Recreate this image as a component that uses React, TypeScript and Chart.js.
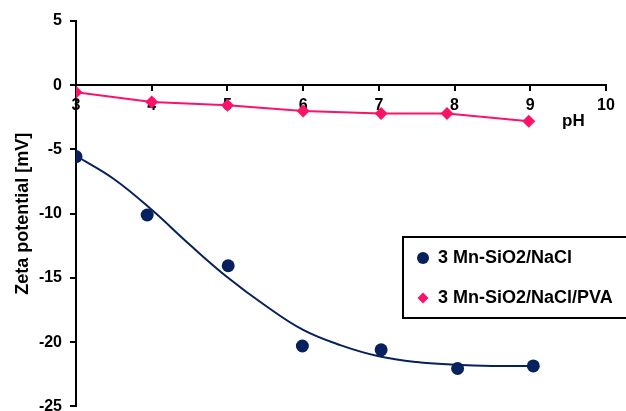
import { useEffect, useRef } from "react";
import { Chart, registerables } from "chart.js";

Chart.register(...registerables);

// Zeta potential of 3 Mn-SiO2 in NaCl
const phNaCl = [3, 3.94, 5.01, 5.99, 7.03, 8.04, 9.04];
const zetaNaCl = [-5.55, -10.1, -14.05, -20.3, -20.6, -22.05, -21.85];

// Smoothed trend through the NaCl series
const phFit = [3, 3.5, 4, 4.5, 5, 5.5, 6, 6.5, 7, 7.5, 8, 8.5, 9.04];
const zetaFit = [-5.5, -7.3, -9.7, -12.4, -14.95, -17.15, -19.05, -20.25, -21.1, -21.55, -21.75, -21.85, -21.85];

// Zeta potential of 3 Mn-SiO2 in NaCl with PVA
const phPVA = [3, 4, 5, 6, 7.03, 7.9, 8.98];
const zetaPVA = [-0.55, -1.3, -1.55, -2.0, -2.2, -2.2, -2.8];

const xRange = [3, 10];
const yRange = [-25, 5];
const seriesLabels = ["3 Mn-SiO2/NaCl", "3 Mn-SiO2/NaCl/PVA"];
const xAxisLabel = "pH";
const yAxisLabel = "Zeta potential [mV]";

const NAVY = "#06215e";
const PINK = "#fb1269";
const FONT = '"Liberation Sans", Arial, sans-serif';

const toPoints = (xs: number[], ys: number[]) => xs.map((x, i) => ({ x, y: ys[i] }));

// Boxed legend and the pH caption next to the x axis
const annotations = {
  id: "annotations",
  afterDraw(chart: any) {
    const { ctx, chartArea, scales } = chart;
    ctx.save();

    // pH caption, below the x axis near its end
    ctx.fillStyle = "#000";
    ctx.font = `bold 17px ${FONT}`;
    ctx.textAlign = "center";
    ctx.textBaseline = "middle";
    ctx.fillText(xAxisLabel, scales.x.getPixelForValue(9.57), scales.y.getPixelForValue(0) + 36);

    // legend box
    const bx = chartArea.left + 327;
    const by = chartArea.top + 216;
    const bw = 260;
    const bh = 81;
    ctx.fillStyle = "#fff";
    ctx.fillRect(bx, by, bw, bh);
    ctx.lineWidth = 2;
    ctx.strokeStyle = "#000";
    ctx.strokeRect(bx, by, bw, bh);

    const mx = bx + 20;
    const rows = [by + 21, by + 61];
    // circle marker
    ctx.fillStyle = NAVY;
    ctx.beginPath();
    ctx.arc(mx, rows[0], 6, 0, Math.PI * 2);
    ctx.fill();
    // diamond marker
    ctx.fillStyle = PINK;
    ctx.beginPath();
    ctx.moveTo(mx, rows[1] - 5.5);
    ctx.lineTo(mx + 5.5, rows[1]);
    ctx.lineTo(mx, rows[1] + 5.5);
    ctx.lineTo(mx - 5.5, rows[1]);
    ctx.closePath();
    ctx.fill();

    ctx.fillStyle = "#000";
    ctx.font = `bold 18px ${FONT}`;
    ctx.textAlign = "left";
    ctx.textBaseline = "middle";
    seriesLabels.forEach((t, i) => ctx.fillText(t, bx + 35, rows[i]));

    ctx.restore();
  },
};

export default function App() {
  const canvasRef = useRef<HTMLCanvasElement | null>(null);

  useEffect(() => {
    if (!canvasRef.current) return;
    const chart = new Chart(canvasRef.current, {
      type: "scatter",
      data: {
        datasets: [
          {
            label: seriesLabels[0],
            data: toPoints(phNaCl, zetaNaCl),
            showLine: false,
            pointRadius: 6.5,
            pointBackgroundColor: NAVY,
            pointBorderColor: NAVY,
            pointBorderWidth: 0,
            order: 1,
          },
          {
            label: "trend",
            data: toPoints(phFit, zetaFit),
            showLine: true,
            pointRadius: 0,
            borderColor: NAVY,
            borderWidth: 2,
            tension: 0.4,
            order: 2,
          },
          {
            label: seriesLabels[1],
            data: toPoints(phPVA, zetaPVA),
            showLine: true,
            borderColor: PINK,
            borderWidth: 2,
            tension: 0,
            pointStyle: "rectRot",
            pointRadius: 6.5,
            pointBackgroundColor: PINK,
            pointBorderColor: PINK,
            pointBorderWidth: 0,
            order: 0,
          },
        ],
      },
      options: {
        responsive: false,
        animation: false,
        devicePixelRatio: 1,
        layout: { padding: { left: 0, top: 21, right: 20, bottom: 0 } },
        plugins: { legend: { display: false }, tooltip: { enabled: false } },
        scales: {
          x: {
            type: "linear",
            position: { y: 0 } as any,
            min: xRange[0],
            max: xRange[1],
            ticks: {
              stepSize: 1,
              color: "#000",
              padding: 6,
              font: { family: FONT, size: 16, weight: "bold" },
            },
            grid: {
              drawOnChartArea: false,
              drawTicks: true,
              tickLength: 5,
              color: "#000",
              lineWidth: 2,
            },
            border: { display: true, color: "#000", width: 2 },
          },
          y: {
            type: "linear",
            min: yRange[0],
            max: yRange[1],
            afterFit: (s: any) => {
              s.width = 76;
            },
            ticks: {
              stepSize: 5,
              color: "#000",
              padding: 8,
              font: { family: FONT, size: 16, weight: "bold" },
            },
            grid: {
              drawOnChartArea: false,
              drawTicks: true,
              tickLength: 6,
              color: "#000",
              lineWidth: 2,
            },
            border: { display: true, color: "#000", width: 2 },
            title: {
              display: true,
              text: yAxisLabel,
              color: "#000",
              padding: { top: 12, bottom: 0 },
              font: { family: FONT, size: 18, weight: "bold" },
            },
          },
        },
      },
      plugins: [annotations],
    });
    return () => chart.destroy();
  }, []);

  return (
    <div
      style={{
        position: "absolute",
        left: 0,
        top: 0,
        width: 626,
        height: 411,
        overflow: "hidden",
        background: "#fff",
      }}
    >
      <canvas ref={canvasRef} width={626} height={424} style={{ display: "block" }} />
    </div>
  );
}
